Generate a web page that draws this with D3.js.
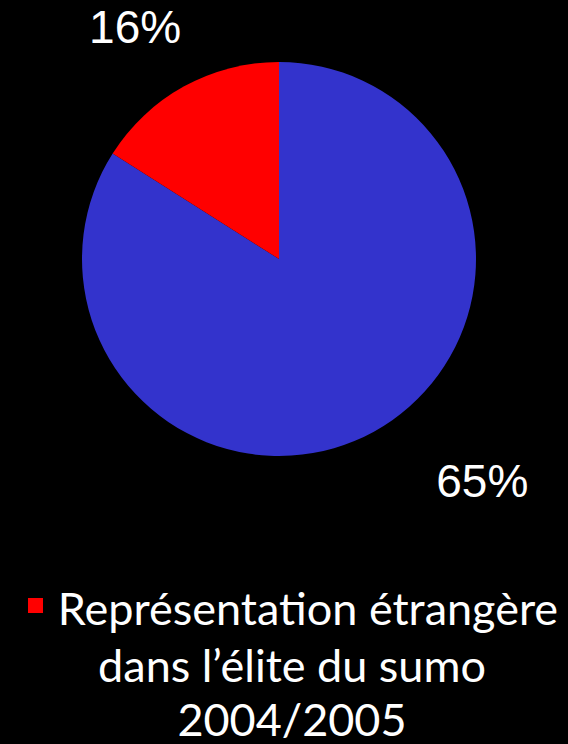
<!DOCTYPE html>
<html>
<head>
<meta charset="utf-8">
<script src="https://cdn.jsdelivr.net/npm/d3@7"></script>
<style>
  html, body { margin: 0; padding: 0; background: #000; }
  svg { display: block; }
</style>
</head>
<body>
<svg id="canvas" width="568" height="744"></svg>
<script>
// data
let categories = ['Autres', 'Représentation étrangère dans l’élite du sumo 2004/2005'];
let values = [84, 16];
let valueLabels = ['65%', '16%'];
let colors = ['#3333CC', '#FF0000'];

// legend shows only the red series, wrapped on three lines
let legendLines = ['Représentation étrangère', 'dans l’élite du sumo', '2004/2005'];

let cx = 279, cy = 259, radius = 197;

let canvas = d3.select('#canvas');

let pie = d3.pie().sort(null).value(d => d)(values);
let arc = d3.arc().innerRadius(0).outerRadius(radius);

let g = canvas.append('g').attr('transform', `translate(${cx},${cy})`);

g.selectAll('path')
    .data(pie)
    .enter()
    .append('path')
    .attr('d', arc)
    .attr('fill', (d, i) => colors[i]);

// label placement (angle in radians from 12 o'clock, distance from centre)
let labelPos = [
    { angle: 2.40, dist: 301 },   // 65%
    { angle: -0.555, dist: 273 }  // 16%
];

g.selectAll('text.value')
    .data(pie)
    .enter()
    .append('text')
    .attr('class', 'value')
    .attr('x', (d, i) => Math.sin(labelPos[i].angle) * labelPos[i].dist)
    .attr('y', (d, i) => -Math.cos(labelPos[i].angle) * labelPos[i].dist)
    .attr('text-anchor', 'middle')
    .attr('dy', '0.35em')
    .attr('fill', '#fff')
    .style('font-family', '"Liberation Sans", Arial, sans-serif')
    .style('font-size', '46px')
    .text((d, i) => valueLabels[i]);

// legend
let legend = canvas.append('g');
let legendFont = 'Lato, "Open Sans", sans-serif';
let lineBase = [625, 682, 736];

legend.selectAll('text')
    .data(legendLines)
    .enter()
    .append('text')
    .attr('x', (d, i) => i === 0 ? 308 : 292)
    .attr('y', (d, i) => lineBase[i])
    .attr('text-anchor', 'middle')
    .attr('fill', '#fff')
    .style('font-family', legendFont)
    .style('font-size', '45px')
    .text(d => d);

legend.append('rect')
    .attr('x', 28)
    .attr('y', 598)
    .attr('width', 15)
    .attr('height', 15)
    .attr('fill', colors[1]);
</script>
</body>
</html>
